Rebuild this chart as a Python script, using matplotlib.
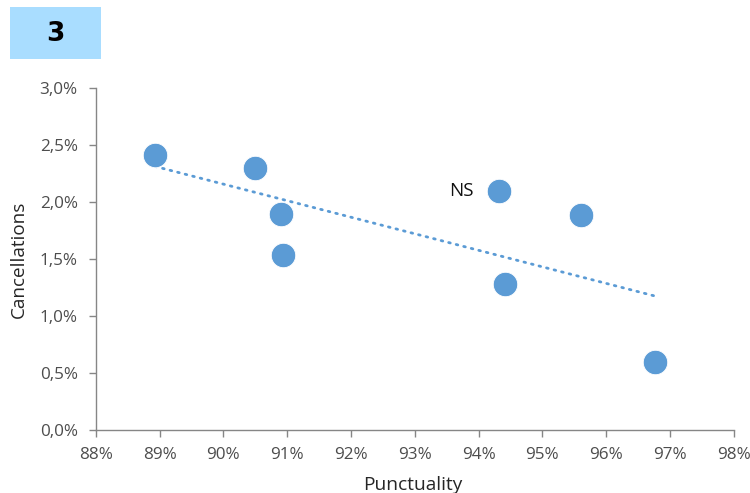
import numpy as np
import matplotlib
matplotlib.use("Agg")
import matplotlib.pyplot as plt
from matplotlib.patches import Rectangle

# Punctuality (%) vs cancellations (%) per operator
punctuality = [88.93, 90.50, 90.90, 90.94, 94.32, 95.60, 94.42, 96.77]
cancellations = [2.41, 2.30, 1.90, 1.54, 2.10, 1.89, 1.28, 0.60]
point_labels = ["", "", "", "", "NS", "", "", ""]

x_ticks = list(range(88, 99))
y_ticks = [0.0, 0.5, 1.0, 1.5, 2.0, 2.5, 3.0]
panel_number = "3"

blue = "#5B9BD5"
axis_grey = "#868686"
text_grey = "#4d4d4d"

plt.rcParams["font.family"] = ["Open Sans", "DejaVu Sans"]

fig = plt.figure(figsize=(7.5, 4.93), dpi=100)
ax = fig.add_axes([0.1276, 0.1278, 0.8507, 0.6931])

ax.scatter(punctuality, cancellations, s=310, color=blue, edgecolors="white",
           linewidths=0.6, zorder=3)

# Linear trend line over the data range
coef = np.polyfit(punctuality, cancellations, 1)
xs = np.array([min(punctuality), max(punctuality)])
ax.plot(xs, np.polyval(coef, xs), color=blue, linewidth=2.0,
        linestyle=(0, (0.6, 2.2)), dash_capstyle="round", zorder=2)

for x, y, lab in zip(punctuality, cancellations, point_labels):
    if lab:
        ax.annotate(lab, (x, y), xytext=(-18, 0), textcoords="offset points",
                    ha="right", va="center", fontsize=13.5, color="#111111")

ax.set_xlim(88, 98)
ax.set_ylim(0, 3.0)
ax.set_xticks(x_ticks)
ax.set_xticklabels([f"{v}%" for v in x_ticks])
ax.set_yticks(y_ticks)
ax.set_yticklabels([f"{v:.1f}%".replace(".", ",") for v in y_ticks])

for side in ("top", "right"):
    ax.spines[side].set_visible(False)
for side in ("left", "bottom"):
    ax.spines[side].set_color(axis_grey)
    ax.spines[side].set_linewidth(1.0)
ax.tick_params(axis="both", direction="out", length=5, width=1.0,
               color=axis_grey, labelcolor=text_grey, labelsize=12.3)
ax.tick_params(axis="x", pad=7)
ax.tick_params(axis="y", pad=8)

ax.set_xlabel("Punctuality", fontsize=13.8, color="#262626")
ax.set_ylabel("Cancellations", fontsize=13.6, color="#262626")
ax.xaxis.set_label_coords(0.497, -0.136)
ax.yaxis.set_label_coords(-0.106, 0.5)

# Panel number badge
fig.patches.append(Rectangle((10 / 750, 1 - 58.7 / 493), 90.7 / 750, 51.4 / 493,
                             transform=fig.transFigure, facecolor="#A9DDFF",
                             edgecolor="none"))
fig.text(55.5 / 750, 1 - 34 / 493, panel_number, ha="center", va="center",
         fontsize=19, fontweight="bold",
         family=["Liberation Sans Narrow", "DejaVu Sans"], color="black")

fig.savefig("out.png", dpi=100)
